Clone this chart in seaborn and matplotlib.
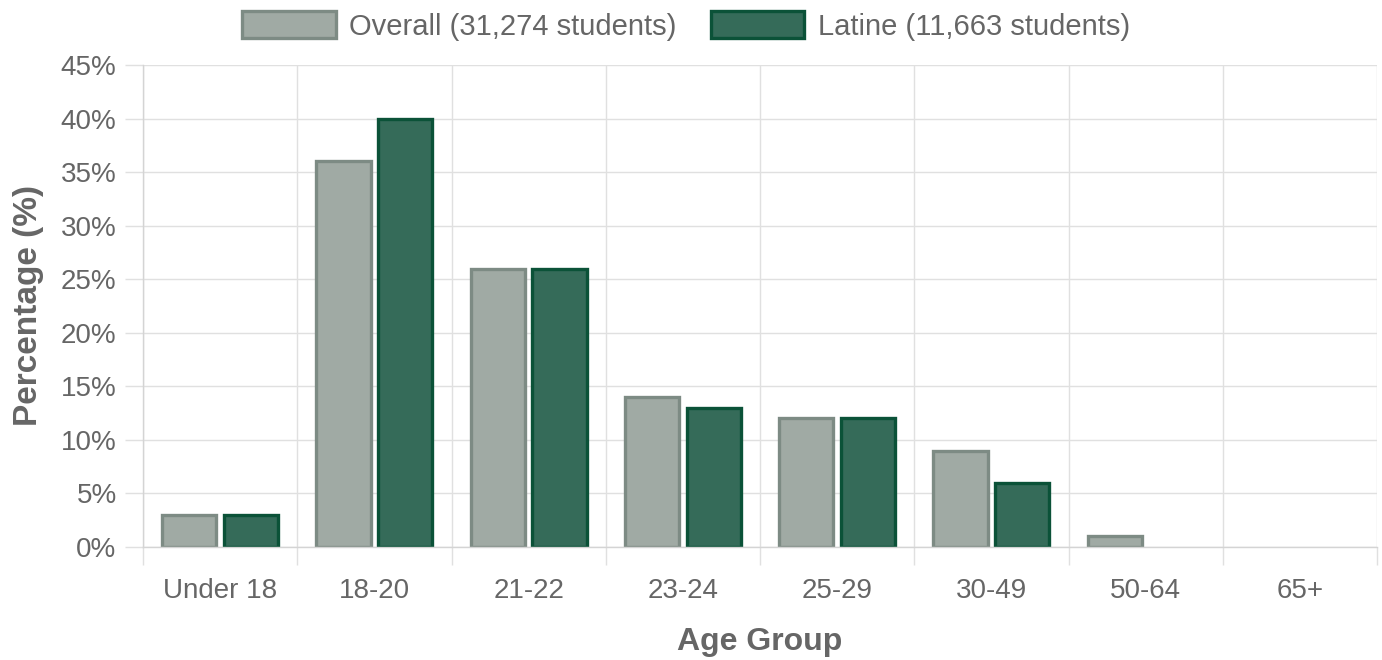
import matplotlib
matplotlib.use("Agg")
import matplotlib.pyplot as plt
from matplotlib.patches import Patch
import numpy as np
import pandas as pd
import seaborn as sns

# Share of students in each age group (%)
age_groups = ["Under 18", "18-20", "21-22", "23-24", "25-29", "30-49", "50-64", "65+"]
overall_pct = [3, 36, 26, 14, 12, 9, 1, 0]
latine_pct = [3, 40, 26, 13, 12, 6, 0, 0]
series_names = ["Overall (31,274 students)", "Latine (11,663 students)"]
y_ticks = [0, 5, 10, 15, 20, 25, 30, 35, 40, 45]

fill_colors = ["#a0aaa4", "#356b59"]
edge_colors = ["#7d8b84", "#0b5238"]
text_color = "#666666"
grid_color = "#e0e0e0"

df = pd.DataFrame({
    "Age Group": age_groups * 2,
    "Percentage": overall_pct + latine_pct,
    "Series": [series_names[0]] * len(age_groups) + [series_names[1]] * len(age_groups),
})

sns.set_theme(style="white")
plt.rcParams["font.family"] = ["Liberation Sans", "DejaVu Sans"]

fig = plt.figure(figsize=(13.82, 6.60), dpi=100)
ax = fig.add_axes([143 / 1382, 1 - 547 / 660, (1377 - 143) / 1382, (547 - 65) / 660])

sns.barplot(
    data=df, x="Age Group", y="Percentage", hue="Series",
    order=age_groups, hue_order=series_names,
    palette=fill_colors, width=0.8, gap=0.12, ax=ax, legend=False,
    errorbar=None, saturation=1,
)

# Outline each series with its darker border colour
for container, ec in zip(ax.containers, edge_colors):
    for bar in container:
        if bar.get_height() > 0:
            bar.set_edgecolor(ec)
            bar.set_linewidth(2.4)
        else:
            bar.set_linewidth(0)

ax.set_xlim(-0.5, len(age_groups) - 0.5)
ax.set_ylim(0, 45)
ax.set_yticks(y_ticks)
ax.set_yticklabels([f"{v}%" for v in y_ticks])

# Category boundary lines, extended below the axis as ticks
ax.set_xticks(np.arange(-0.5, len(age_groups)), minor=True)
ax.tick_params(axis="x", which="minor", length=13, width=1.0, color=grid_color, bottom=True)
ax.tick_params(axis="x", which="major", length=0, pad=22, labelsize=20, labelcolor=text_color)
ax.tick_params(axis="y", which="major", length=13, width=1.0, color=grid_color, left=True,
               pad=6, labelsize=20, labelcolor=text_color)
ax.grid(True, axis="x", which="minor", color=grid_color, linewidth=1.0)
ax.grid(True, axis="y", which="major", color=grid_color, linewidth=1.0)
ax.grid(False, axis="x", which="major")
ax.set_axisbelow(True)

for side in ["top", "right"]:
    ax.spines[side].set_visible(False)
for side in ["left", "bottom"]:
    ax.spines[side].set_color("#d4d4d4")
    ax.spines[side].set_linewidth(1.0)

ax.set_xlabel("Age Group", fontsize=23, fontweight="bold", color=text_color, labelpad=17)
ax.set_ylabel("Percentage (%)", fontsize=24, fontweight="bold", color=text_color, labelpad=12)

handles = [Patch(facecolor=fc, edgecolor=ec, linewidth=2.4) for fc, ec in zip(fill_colors, edge_colors)]
leg = fig.legend(
    handles, series_names, loc="center", bbox_to_anchor=(686 / 1382, 1 - 26 / 660),
    ncol=2, frameon=False, fontsize=21, handlelength=3.2, handleheight=1.05,
    handletextpad=0.45, columnspacing=1.2,
)
for t in leg.get_texts():
    t.set_color(text_color)

fig.savefig("out.png", dpi=100)
